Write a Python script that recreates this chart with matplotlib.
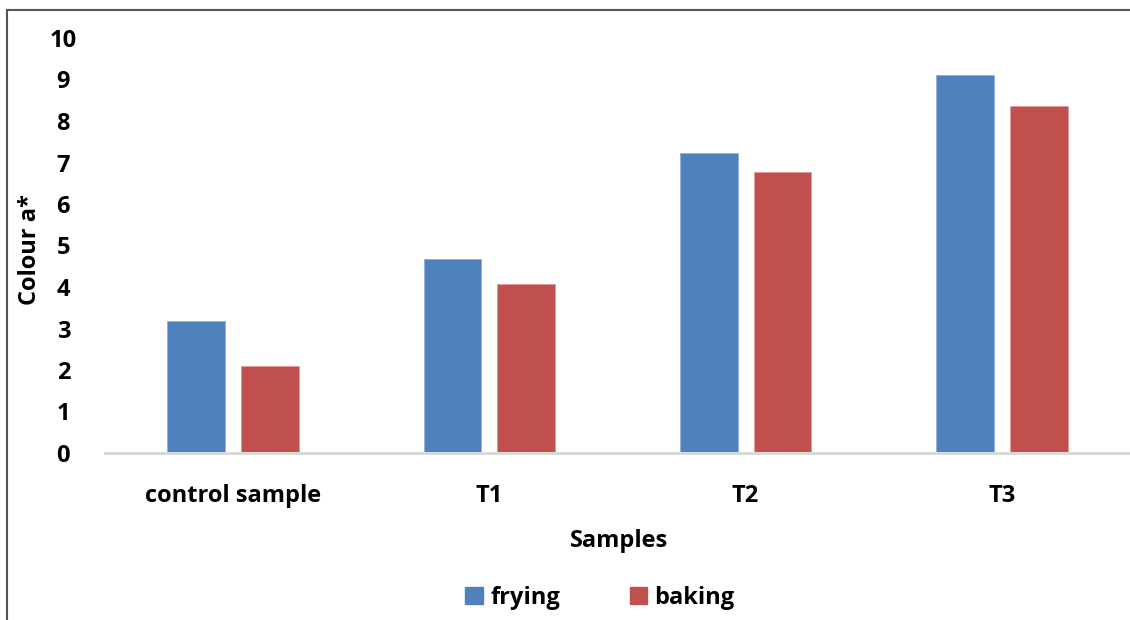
import numpy as np
import matplotlib
matplotlib.use("Agg")
import matplotlib.pyplot as plt
from matplotlib.lines import Line2D
from matplotlib.patches import Patch

# data
categories = ['control sample', 'T1', 'T2', 'T3']
frying = [3.18, 4.67, 7.24, 9.12]
baking = [2.10, 4.08, 6.78, 8.37]
series_names = ['frying', 'baking']
colors = ['#4f81bd', '#c0504d']

plt.rcParams['font.family'] = ['Open Sans', 'DejaVu Sans']
plt.rcParams['font.weight'] = 'bold'
FS = 17

fig = plt.figure(figsize=(11.3, 6.2), dpi=100)
ax = fig.add_axes([105/1130, 1-453/620, 1-105/1130, 415/620])

x = np.arange(len(categories))
w = 0.225
off = 0.144
ax.bar(x - off, frying, w, color=colors[0], edgecolor='#8fb0dd', linewidth=0.6)
ax.bar(x + off, baking, w, color=colors[1], edgecolor='#e09a98', linewidth=0.6)

ax.set_xlim(-0.5, 3.5)
ax.set_ylim(0, 10)
ax.set_yticks(range(0, 11))
ax.set_xticks(x)
ax.set_xticklabels(categories)
ax.tick_params(axis='both', length=0, labelsize=FS, colors='black')
ax.tick_params(axis='x', pad=22)
ax.tick_params(axis='y', pad=30)
for lab in ax.get_yticklabels() + ax.get_xticklabels():
    lab.set_fontweight('bold')
for lab in ax.get_yticklabels():
    lab.set_horizontalalignment('center')

for s in ['top', 'right', 'left']:
    ax.spines[s].set_visible(False)
ax.spines['bottom'].set_color('#d9d9d9')
ax.spines['bottom'].set_linewidth(2.2)

fig.text(619/1130, 1-541/620, 'Samples', ha='center', va='center',
         fontsize=FS, fontweight='bold')
fig.text(30/1130, 1-250/620, 'Colour a*', ha='center', va='center',
         rotation=90, fontsize=FS, fontweight='bold')

handles = [Patch(facecolor=c, edgecolor=c) for c in colors]
fig.legend(handles, series_names, loc='center', bbox_to_anchor=(600/1130, 1-598/620),
           ncol=2, frameon=False, prop={'size': FS, 'weight': 'bold'},
           handlelength=0.75, handleheight=0.75,
           handletextpad=0.3, columnspacing=2.95)

# outer frame (top and left only visible)
fig.add_artist(Line2D([7/1130, 1], [1-10/620, 1-10/620], color='#555555', lw=1.5))
fig.add_artist(Line2D([7/1130, 7/1130], [0, 1-10/620], color='#555555', lw=1.5))

fig.savefig('out.png', dpi=100, facecolor='white')
